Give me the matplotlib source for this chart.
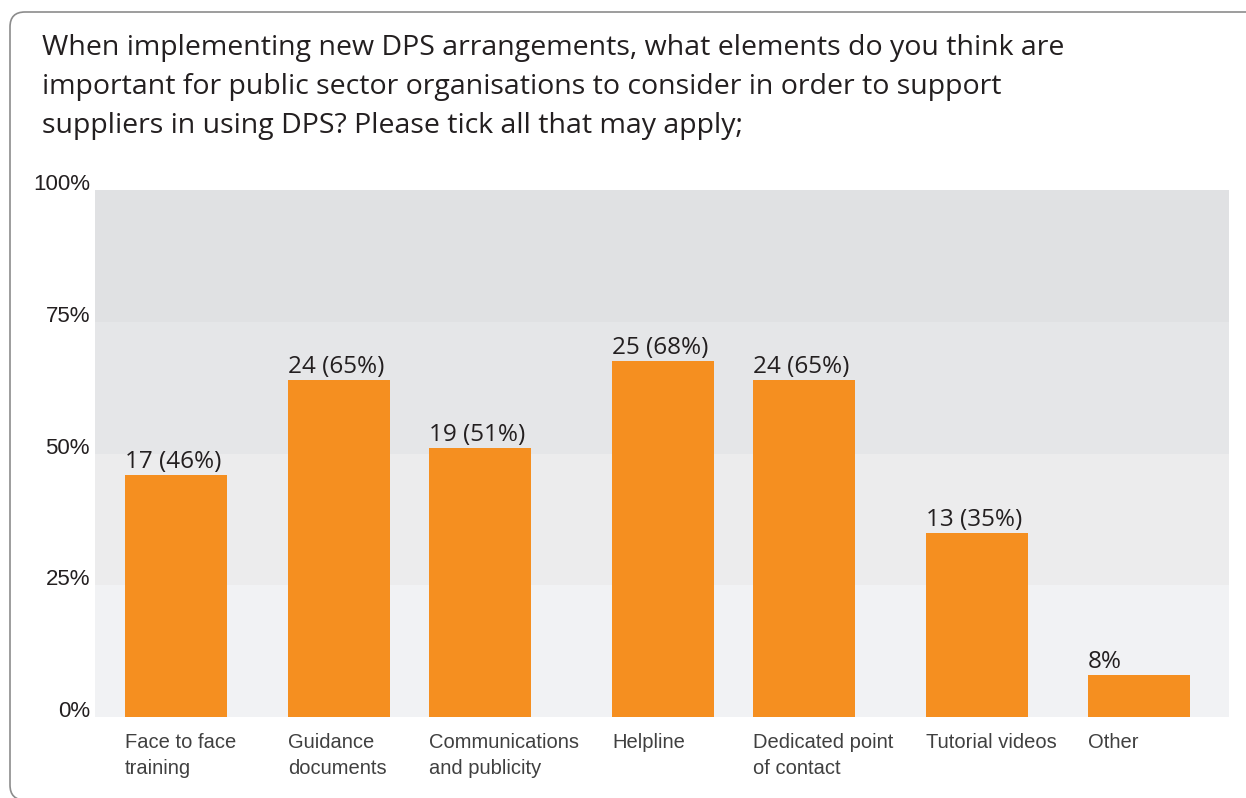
import matplotlib

matplotlib.use("Agg")
import matplotlib.pyplot as plt  # noqa: E402
from matplotlib.patches import FancyBboxPatch  # noqa: E402
from matplotlib.transforms import offset_copy  # noqa: E402

title = (
    "When implementing new DPS arrangements, what elements do you think are\n"
    "important for public sector organisations to consider in order to support\n"
    "suppliers in using DPS? Please tick all that may apply;"
)
categories = [
    "Face to face\ntraining",
    "Guidance\ndocuments",
    "Communications\nand publicity",
    "Helpline",
    "Dedicated point\nof contact",
    "Tutorial videos",
    "Other",
]
shares = [46, 64, 51, 67.5, 64, 35, 8]
value_labels = ["17 (46%)", "24 (65%)", "19 (51%)", "25 (68%)", "24 (65%)", "13 (35%)", "8%"]
y_ticks = [0, 25, 50, 75, 100]
y_tick_labels = ["0%", "25%", "50%", "75%", "100%"]

# layout: uneven bar spacing as in the original
bar_pos = [0.81, 2.44, 3.85, 5.68, 7.09, 8.82, 10.44]
bar_width = 1.02
band_colors = ["#f1f2f4", "#ececed", "#e5e6e8", "#e0e1e3"]
bar_color = "#f58f20"

W, H = 1246, 798
fig = plt.figure(figsize=(W / 100, H / 100), dpi=100)

# rounded frame
frame = FancyBboxPatch(
    (10 / W, (H - 800) / H), (1300 - 10) / W, (800 - 12) / H,
    boxstyle="round,pad=0,rounding_size=0.012",
    transform=fig.transFigure, facecolor="none",
    edgecolor="#8c8c8c", linewidth=1.2, mutation_aspect=W / H,
)
fig.patches.append(frame)

fig.text(42 / W, 1 - 34 / H, title, ha="left", va="top", fontsize=20.5,
         family="Open Sans", color="#231f20", linespacing=1.53)

ax = fig.add_axes([95 / W, 1 - 717 / H, (1229 - 95) / W, (717 - 190) / H])
ax.set_xlim(0, 11.34)
ax.set_ylim(0, 100)
for i, c in enumerate(band_colors):
    ax.axhspan(y_ticks[i], y_ticks[i + 1], color=c, lw=0, zorder=0)

ax.bar(bar_pos, shares, width=bar_width, color=bar_color, zorder=2)

for x, v, lab in zip(bar_pos, shares, value_labels):
    ax.annotate(lab, (x - bar_width / 2, v), xytext=(0, 5), textcoords="offset points",
                ha="left", va="baseline", fontsize=17.5, family="Open Sans",
                color="#231f20")

for x, cat in zip(bar_pos, categories):
    ax.text(x - bar_width / 2, -3.0, cat, ha="left", va="top", fontsize=14.5,
            family="Liberation Sans", color="#404040", linespacing=1.45)

ytrans = offset_copy(ax.get_yaxis_transform(), fig=fig, x=-5, y=0, units="dots")
for t, lab in zip(y_ticks, y_tick_labels):
    ax.text(0, t, lab, transform=ytrans, ha="right", va="baseline",
            fontsize=16, family="Liberation Sans", color="#231f20")

ax.set_xticks([])
ax.set_yticks([])
for s in ax.spines.values():
    s.set_visible(False)

fig.savefig("out.png", dpi=100)
